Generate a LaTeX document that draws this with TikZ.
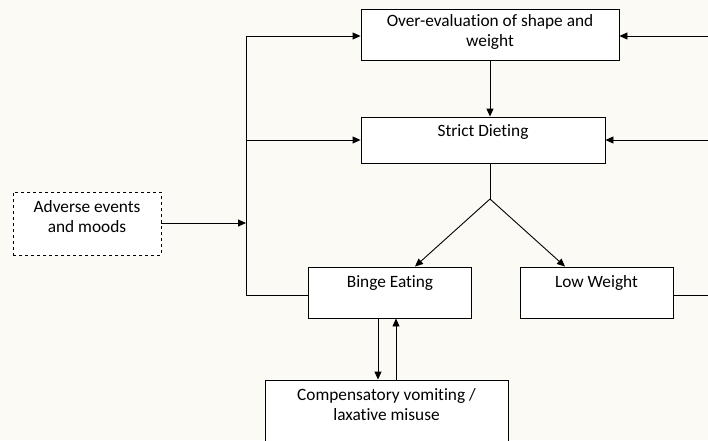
\documentclass[tikz,border=0pt]{standalone}
\usepackage{fontspec}
\setmainfont{Carlito}[Ligatures=NoCommon]
\usetikzlibrary{arrows.meta}
\definecolor{bgcream}{RGB}{252,250,245}
\tikzset{
  boxst/.style={draw, fill=white, line width=0.9pt, inner sep=0pt},
  dashbox/.style={boxst, dashed},
  txt/.style={font=\fontsize{17.3}{20}\selectfont, align=center, inner sep=0pt},
  conn/.style={line width=0.9pt},
  arr/.style={conn, -{Triangle[length=8pt,width=7pt]}}
}
\begin{document}
\begin{tikzpicture}[x=1pt,y=-1pt]
\useasboundingbox (0,0) rectangle (708,440);
\clip (0,0) rectangle (708,440);
\fill[bgcream] (0,0) rectangle (708,440);
% boxes
\node[boxst, minimum width=258pt, minimum height=51pt] (oe) at (490,34.5) {};
\node[boxst, minimum width=244pt, minimum height=46pt] (sd) at (483,140) {};
\node[dashbox, minimum width=148pt, minimum height=63pt] (ad) at (87,223.5) {};
\node[boxst, minimum width=163pt, minimum height=51pt] (be) at (390,292.5) {};
\node[boxst, minimum width=153pt, minimum height=51pt] (lw) at (596.5,292.5) {};
\node[boxst, minimum width=243pt, minimum height=76pt] (cv) at (386.5,418) {};
% texts
\node[txt] (oet) at (490,32) {Over-evaluation of shape and\\weight};
\node[txt] (sdt) at (483,132) {Strict Dieting};
\node[txt] (adt) at (87,217) {Adverse events\\and moods};
\node[txt] (bet) at (390,283) {Binge Eating};
\node[txt] (lwt) at (596.5,283) {Low Weight};
\node[txt] (cvt) at (386.5,405) {Compensatory vomiting /\\laxative misuse};
% coordinates
\coordinate (bus) at (246,36);
\coordinate (rbus) at (716,36);
\coordinate (split) at (490,199);
% left bus
\draw[arr] (be.west |- 0,295) -- (bus |- 0,295) -- (bus) -- (oe.west |- bus);
\draw[arr] (bus |- 0,140) -- (sd.west |- 0,140);
\draw[arr] (ad.east |- 0,223) -- (bus |- 0,223);
% right bus
\draw[arr] (lw.east |- 0,295) -- (rbus |- 0,295) -- (rbus) -- (oe.east |- rbus);
\draw[arr] (rbus |- 0,140) -- (sd.east |- 0,140);
% center
\draw[arr] (oe.south -| split) -- (sd.north -| split);
\draw[conn] (sd.south -| split) -- (split);
\draw[arr] (split) -- (be.north -| 415,0);
\draw[arr] (split) -- (lw.north -| 565,0);
% binge <-> compensatory
\draw[arr] (be.south -| 378,0) -- (cv.north -| 378,0);
\draw[arr] (cv.north -| 396,0) -- (be.south -| 396,0);
\end{tikzpicture}
\end{document}
